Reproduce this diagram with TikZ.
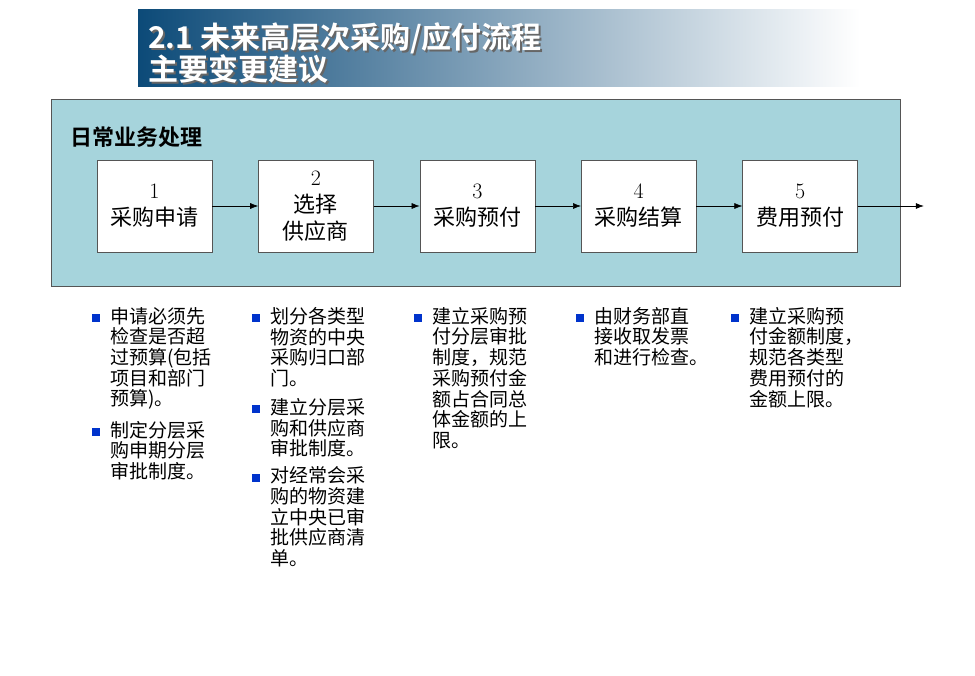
\documentclass[tikz,border=0pt]{standalone}
\usepackage{fontspec}
\newfontfamily\cjk{Noto Sans CJK SC}[BoldFont={Noto Sans CJK SC Bold}]
\usetikzlibrary{positioning,arrows.meta}
\definecolor{bandblue}{RGB}{12,74,120}
\definecolor{panelteal}{RGB}{166,212,220}
\definecolor{bulletblue}{RGB}{0,51,204}
\definecolor{edgegray}{RGB}{85,85,85}
\tikzset{
  stepbox/.style={draw=edgegray, fill=white, minimum width=115, minimum height=92,
    align=center, inner sep=0, font=\cjk\fontsize{22}{27}\selectfont},
  flow/.style={-{Latex[length=8pt,width=6pt]}, semithick},
  sq/.style={fill=bulletblue, minimum size=8, inner sep=0, anchor=north east, xshift=-10, yshift=-7},
  note/.style={anchor=north west, align=left, inner sep=0,
    font=\cjk\fontsize{19}{20.7}\selectfont, label={[sq]north west:{}}},
}
\begin{document}
\begin{tikzpicture}[x=1pt,y=-1pt]
  \useasboundingbox (0,0) rectangle (975,675);
  % title band
  \shade[left color=bandblue, right color=white] (138,9) rectangle (860,86);
  \node[anchor=west, align=left, inner sep=0, text=black!60, font=\cjk\bfseries\fontsize{30}{31}\selectfont]
    (titleshadow) at (150,55) {2.1 未来高层次采购/应付流程\\主要变更建议};
  \node[anchor=west, align=left, inner sep=0, text=white, font=\cjk\bfseries\fontsize{30}{31}\selectfont]
    (title) at (148,53) {2.1 未来高层次采购/应付流程\\主要变更建议};
  % panel
  \draw[draw=edgegray, fill=panelteal] (51,99) rectangle (900,286);
  \node[anchor=west, inner sep=0, font=\cjk\bfseries\fontsize{22}{24}\selectfont] (head) at (70,137) {日常业务处理};
  % steps
  \node[stepbox] (s1) at (154.5,206) {{\rmfamily 1}\\采购申请};
  \node[stepbox, right=46pt of s1] (s2) {{\rmfamily 2}\\选择\\供应商};
  \node[stepbox, right=46pt of s2] (s3) {{\rmfamily 3}\\采购预付};
  \node[stepbox, right=46pt of s3] (s4) {{\rmfamily 4}\\采购结算};
  \node[stepbox, right=46pt of s4] (s5) {{\rmfamily 5}\\费用预付};
  \coordinate[right=66pt of s5] (out);
  \draw[flow] (s1) -- (s2);
  \draw[flow] (s2) -- (s3);
  \draw[flow] (s3) -- (s4);
  \draw[flow] (s4) -- (s5);
  \draw[flow] (s5) -- (out);
  % notes
  \node[note] (a1) at (110,307) {申请必须先\\检查是否超\\过预算(包括\\项目和部门\\预算)。};
  \node[note, below=11pt of a1.south west, anchor=north west] (a2) {制定分层采\\购申期分层\\审批制度。};
  \node[note] (b1) at (270,307) {划分各类型\\物资的中央\\采购归口部\\门。};
  \node[note, below=11pt of b1.south west, anchor=north west] (b2) {建立分层采\\购和供应商\\审批制度。};
  \node[note, below=9pt of b2.south west, anchor=north west] (b3) {对经常会采\\购的物资建\\立中央已审\\批供应商清\\单。};
  \node[note] (c1) at (432,307) {建立采购预\\付分层审批\\制度，规范\\采购预付金\\额占合同总\\体金额的上\\限。};
  \node[note] (d1) at (594,307) {由财务部直\\接收取发票\\和进行检查。};
  \node[note] (e1) at (749,307) {建立采购预\\付金额制度，\\规范各类型\\费用预付的\\金额上限。};
\end{tikzpicture}
\end{document}
